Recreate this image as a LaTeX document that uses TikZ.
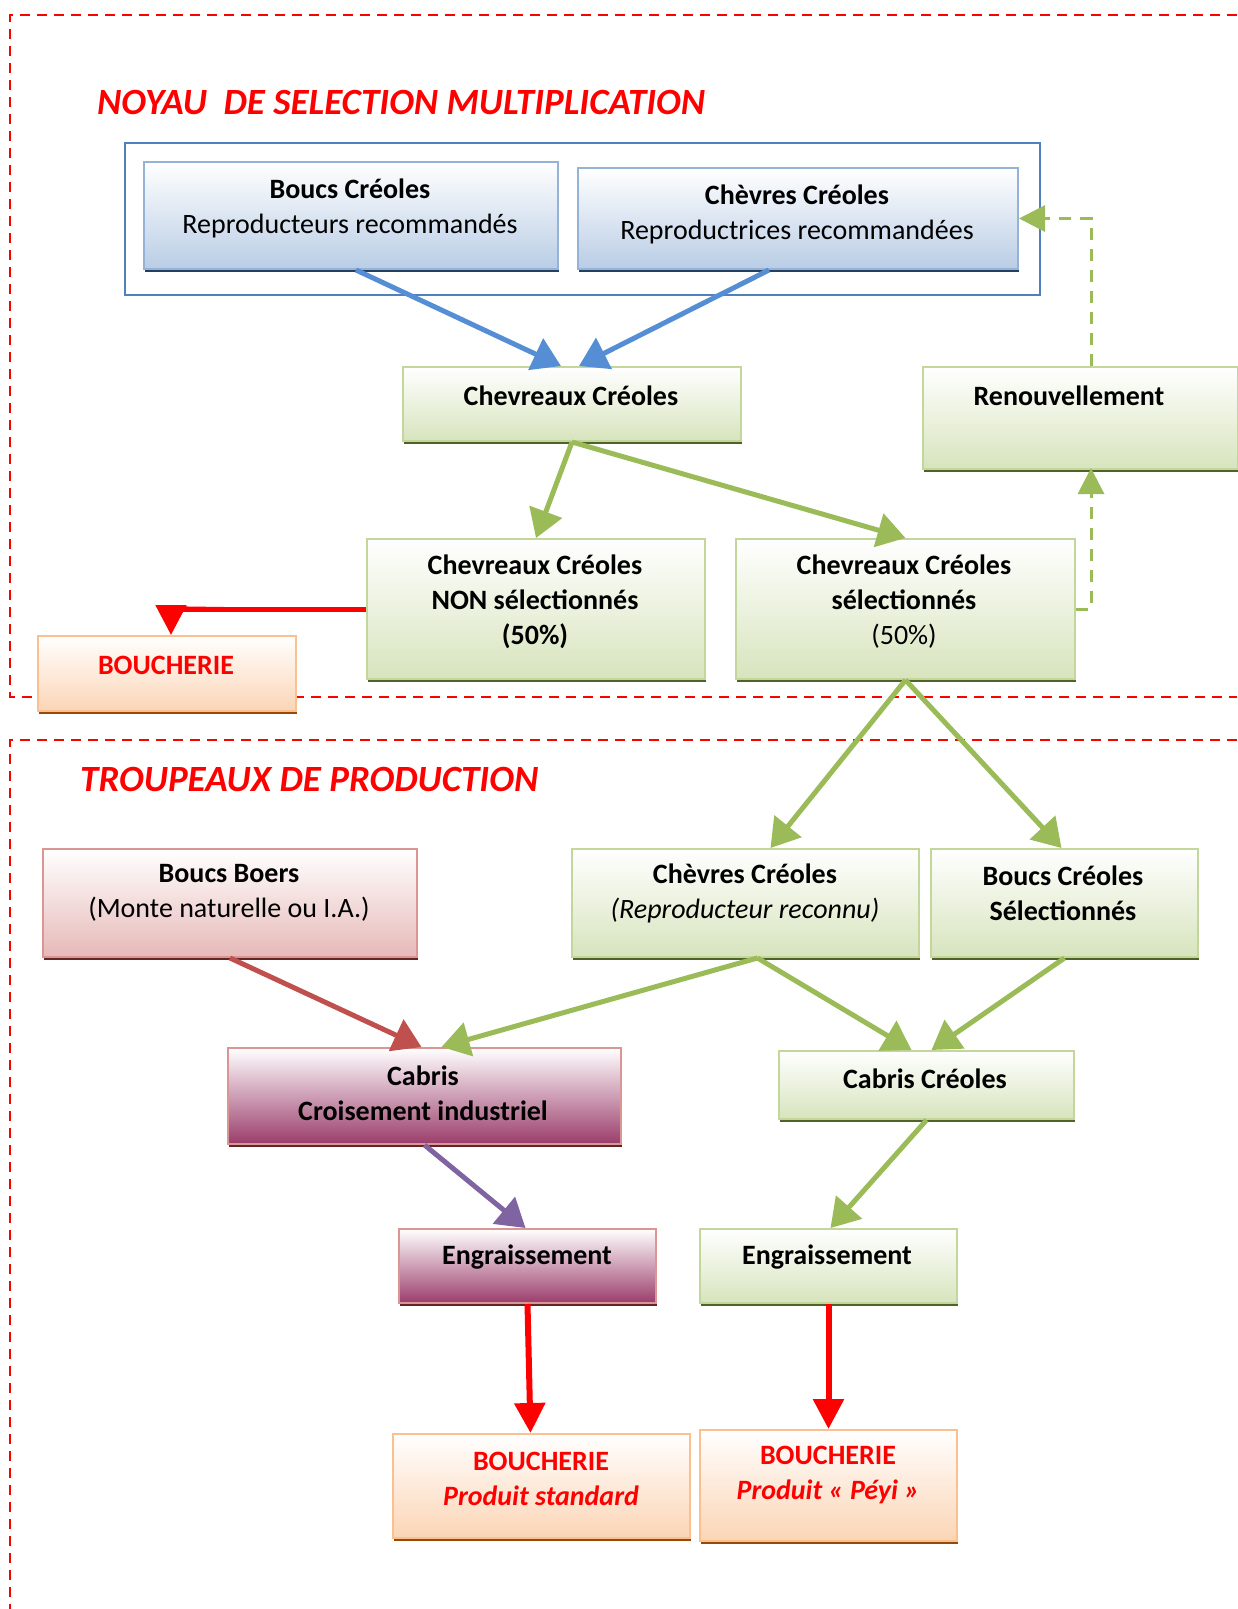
\documentclass[tikz,border=0pt]{standalone}
\usepackage{fontspec}
\setmainfont{Carlito}
\usetikzlibrary{arrows.meta,calc}
\definecolor{blueB}{HTML}{95B3D7}
\definecolor{blueF}{HTML}{B9CDE5}
\definecolor{blueS}{HTML}{243F60}
\definecolor{blueA}{HTML}{558ED5}
\definecolor{blueO}{HTML}{4F81BD}
\definecolor{greenB}{HTML}{C3D69B}
\definecolor{greenF}{HTML}{D7E4BD}
\definecolor{greenS}{HTML}{4F6228}
\definecolor{greenA}{HTML}{9BBB59}
\definecolor{roseB}{HTML}{D99694}
\definecolor{roseF}{HTML}{E6B9B8}
\definecolor{roseS}{HTML}{632523}
\definecolor{maroonF}{HTML}{9B3D6B}
\definecolor{orangeB}{HTML}{FAC090}
\definecolor{orangeF}{HTML}{FBD5B5}
\definecolor{orangeS}{HTML}{984807}
\definecolor{darkredA}{HTML}{C0504D}
\definecolor{purpleA}{HTML}{8064A2}
% name, x1, y1, x2, y2, style, shadow colour
\newcommand{\bx}[7]{%
  \fill[#7] (#2+2,#3+4) rectangle (#4+2,#5+4);
  \node[#6, anchor=north west, minimum width={#4pt-#2pt}, minimum height={#5pt-#3pt}] (#1) at (#2,#3) {};}
\tikzset{
  base/.style={draw, line width=2pt, inner sep=0pt, rectangle},
  bluebox/.style={base, draw=blueB, top color=white, bottom color=blueF},
  greenbox/.style={base, draw=greenB, top color=white, bottom color=greenF},
  rosebox/.style={base, draw=roseB, top color=white, bottom color=roseF},
  maroonbox/.style={base, draw=roseB, top color=white, bottom color=maroonF},
  orangebox/.style={base, draw=orangeB, top color=white, bottom color=orangeF},
  txt/.style={align=center, font=\fontsize{28}{35}\selectfont, inner sep=0pt},
  ttl/.style={font=\fontsize{37}{44}\selectfont\bfseries\itshape, text=red, anchor=west, inner sep=0pt},
  frame/.style={draw=red, line width=2.5pt, dash pattern=on 10pt off 7pt},
  arr/.style={line width=5pt, -{Triangle[length=28pt,width=34pt]}},
  redarr/.style={arr, draw=red, fill=red, line width=6pt, -{Triangle[length=30pt,width=30pt]}},
  dasharr/.style={draw=greenA, line width=3pt, dash pattern=on 12pt off 9pt, -{Triangle[length=26pt,width=26pt]}},
}
\begin{document}
\begin{tikzpicture}[x=1pt,y=-1pt]
\useasboundingbox (0,0) rectangle (1237,1609);
% frames
\draw[frame] (1237,15) -- (10,15) -- (10,697) -- (1237,697);
\draw[frame] (1237,740) -- (10,740) -- (10,1609);
% titles
\node[ttl] (t1) at (97,103) {NOYAU\ \ DE SELECTION MULTIPLICATION};
\node[ttl] (t2) at (80,779) {TROUPEAUX DE PRODUCTION};
% outer blue rectangle
\draw[blueO, line width=1.5pt] (125,143) rectangle (1040,295);
% boxes
\bx{bc}{143}{161}{557}{268}{bluebox}{blueS}
\bx{chv}{577}{167}{1017}{268}{bluebox}{blueS}
\bx{cc}{402}{366}{740}{440}{greenbox}{greenS}
\bx{ren}{922}{366}{1237}{468}{greenbox}{greenS}
\bx{non}{366}{538}{704}{678}{greenbox}{greenS}
\bx{sel}{735}{538}{1074}{678}{greenbox}{greenS}
\bx{bou1}{37}{635}{295}{710}{orangebox}{orangeS}
\bx{boers}{42}{848}{416}{956}{rosebox}{roseS}
\bx{cv}{571}{848}{918}{956}{greenbox}{greenS}
\bx{bcs}{930}{848}{1197}{956}{greenbox}{greenS}
\bx{cab}{227}{1047}{620}{1143}{maroonbox}{roseS}
\bx{ccr}{778}{1050}{1073}{1118}{greenbox}{greenS}
\bx{eg1}{398}{1228}{655}{1302}{maroonbox}{roseS}
\bx{eg2}{699}{1228}{956}{1302}{greenbox}{greenS}
\bx{bs1}{392}{1433}{689}{1537}{orangebox}{orangeS}
\bx{bs2}{699}{1429}{956}{1540}{orangebox}{orangeS}
% texts
\node[txt] (tbc) at (350,208) {\textbf{Boucs Créoles}\\Reproducteurs recommandés};
\node[txt] (tchv) at (797,214) {\textbf{Chèvres Créoles}\\Reproductrices recommandées};
\node[txt, font=\fontsize{28}{35}\selectfont\bfseries] (tcc) at (571,396) {Chevreaux Créoles};
\node[txt, font=\fontsize{28}{35}\selectfont\bfseries] (tren) at (1069,396) {Renouvellement};
\node[txt, font=\fontsize{28}{35}\selectfont\bfseries] (tnon) at (535,602) {Chevreaux Créoles\\NON sélectionnés\\(50\%)};
\node[txt] (tsel) at (904,602) {\textbf{Chevreaux Créoles}\\\textbf{sélectionnés}\\(50\%)};
\node[txt, font=\fontsize{28}{35}\selectfont\bfseries, text=red] (tbou1) at (166,665) {BOUCHERIE};
\node[txt] (tboers) at (229,893) {\textbf{Boucs Boers}\\(Monte naturelle ou I.A.)};
\node[txt] (tcv) at (745,893) {\textbf{Chèvres Créoles}\\\textit{(Reproducteur reconnu)}};
\node[txt, font=\fontsize{28}{35}\selectfont\bfseries] (tbcs) at (1063,893) {Boucs Créoles\\Sélectionnés};
\node[txt, font=\fontsize{28}{35}\selectfont\bfseries] (tcab) at (423,1093) {Cabris\\Croisement industriel};
\node[txt, font=\fontsize{28}{35}\selectfont\bfseries] (tccr) at (925,1079) {Cabris Créoles};
\node[txt, font=\fontsize{28}{35}\selectfont\bfseries] (teg1) at (527,1257) {Engraissement};
\node[txt, font=\fontsize{28}{35}\selectfont\bfseries] (teg2) at (827,1257) {Engraissement};
\node[txt, font=\fontsize{28}{35}\selectfont\bfseries, text=red] (tbs1) at (541,1479) {BOUCHERIE\\\itshape Produit standard};
\node[txt, font=\fontsize{28}{35}\selectfont\bfseries, text=red] (tbs2) at (828,1475) {BOUCHERIE\\\itshape Produit « Péyi »};
% arrows
\draw[arr, blueA] ([xshift=5pt]bc.south) -- ([xshift=-11pt]cc.north);
\draw[arr, blueA] ([xshift=-29pt]chv.south) -- ([xshift=7pt]cc.north);
\draw[arr, greenA] (cc.south) -- (non.north);
\draw[arr, greenA] (cc.south) -- (sel.north);
\draw[redarr, line width=5pt] (non.west) -| ([xshift=4pt]bou1.north);
\coordinate (renx) at (1091,468);
\coordinate (renn) at (1091,366);
\draw[dasharr] (sel.east) -| (renx);
\draw[dasharr] (renn) |- (chv.east);
\draw[arr, greenA] (sel.south) -- ([xshift=25pt]cv.north);
\draw[arr, greenA] (sel.south) -- ([xshift=-3pt]bcs.north);
\draw[arr, darkredA] (boers.south) -- ([xshift=-3pt]cab.north);
\draw[arr, greenA] ([xshift=12pt]cv.south) -- ([xshift=17pt]cab.north);
\draw[arr, greenA] ([xshift=12pt]cv.south) -- ([xshift=-15pt]ccr.north);
\draw[arr, greenA] (bcs.south) -- ([xshift=5pt]ccr.north);
\draw[arr, purpleA] (cab.south) -- ([xshift=-2pt]eg1.north);
\draw[arr, greenA] (ccr.south) -- ([xshift=2pt]eg2.north);
\draw[redarr] (eg1.south) -- ([xshift=3pt]eg1.south |- bs1.north);
\draw[redarr] (eg2.south) -- (bs2.north);
\end{tikzpicture}
\end{document}
